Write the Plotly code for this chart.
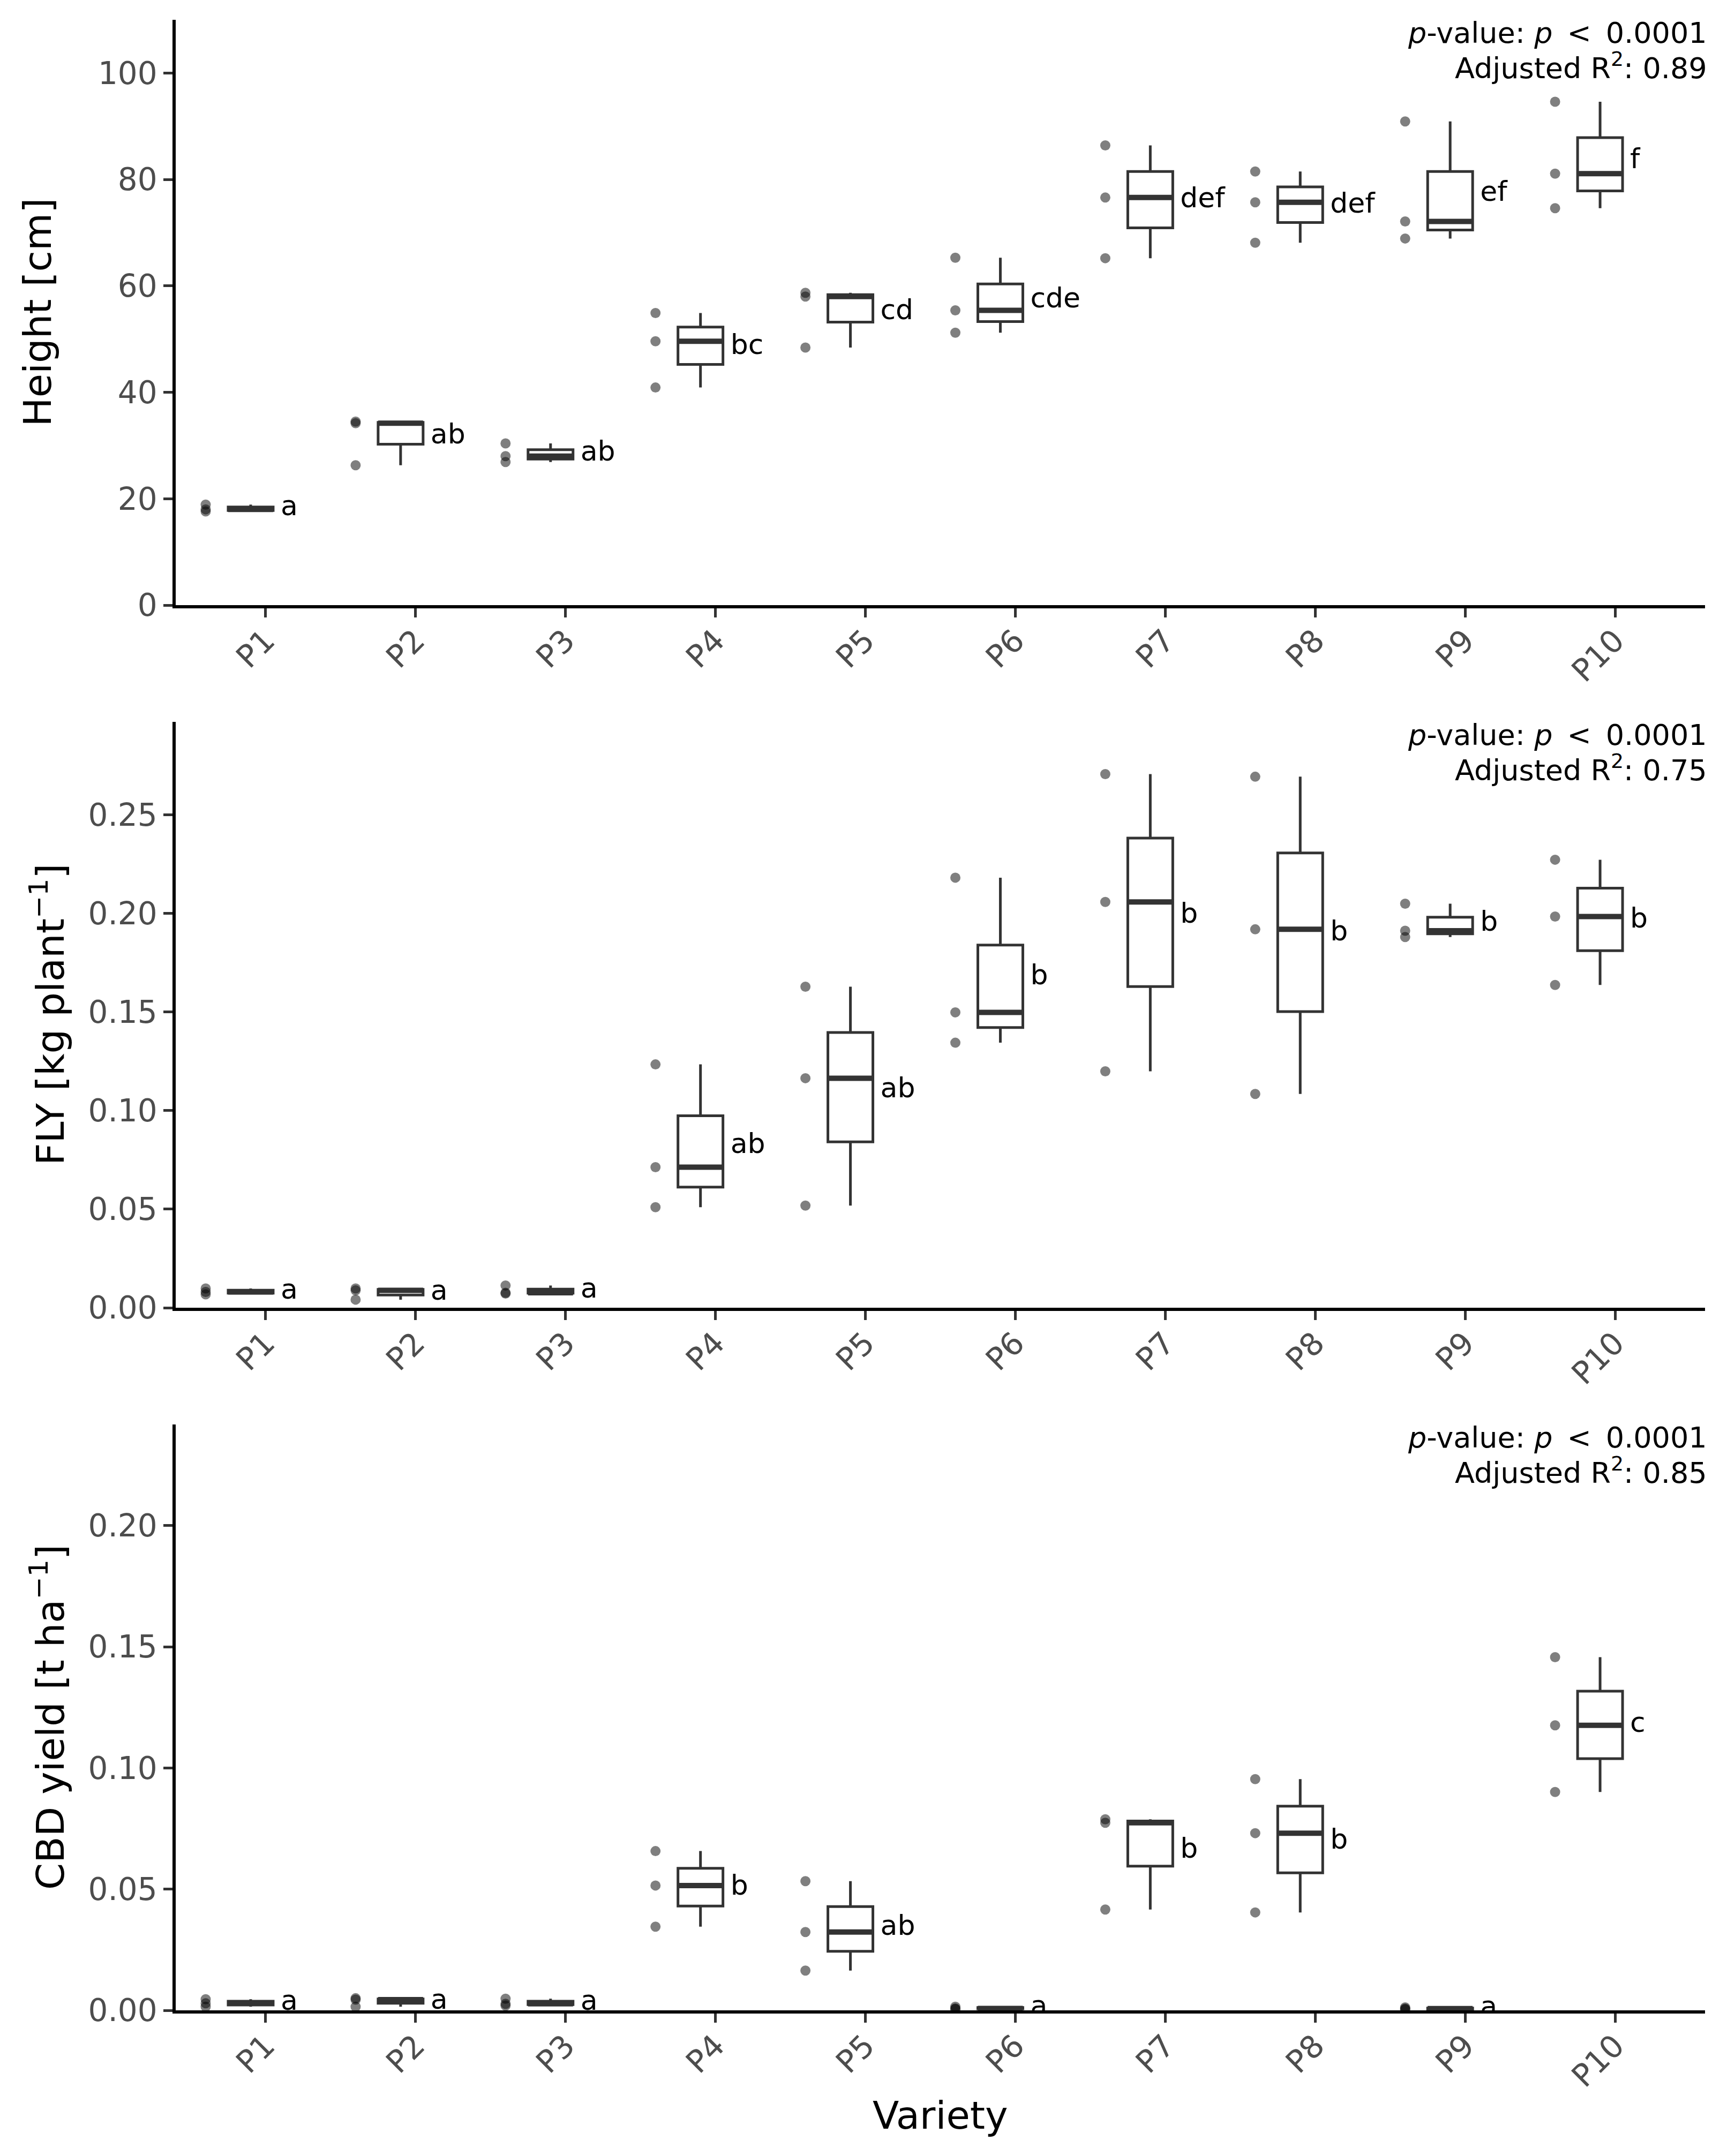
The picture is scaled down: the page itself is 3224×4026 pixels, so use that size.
import numpy as np
import plotly.graph_objects as go

varieties = ["P1", "P2", "P3", "P4", "P5", "P6", "P7", "P8", "P9", "P10"]

height_vals = [
    [17.6, 18.0, 18.9], [26.3, 34.2, 34.5], [26.9, 28.0, 30.4], [40.9, 49.6, 54.9],
    [48.4, 58.0, 58.7], [51.2, 55.4, 65.3], [65.2, 76.6, 86.4], [68.1, 75.7, 81.5],
    [68.9, 72.1, 90.9], [74.6, 81.1, 94.6],
]
fly_vals = [
    [0.0068, 0.0080, 0.0098], [0.0041, 0.0088, 0.0098], [0.0072, 0.0076, 0.0113],
    [0.0510, 0.0713, 0.1234], [0.0518, 0.1164, 0.1628], [0.1344, 0.1498, 0.2181],
    [0.1199, 0.2058, 0.2706], [0.1084, 0.1919, 0.2693], [0.1880, 0.1912, 0.2049],
    [0.1637, 0.1984, 0.2272],
]
cbd_vals = [
    [0.0015, 0.0029, 0.0046], [0.0015, 0.0044, 0.0050], [0.0020, 0.0027, 0.0048],
    [0.0345, 0.0515, 0.0657], [0.0164, 0.0323, 0.0533], [0.0005, 0.0008, 0.0015],
    [0.0416, 0.0774, 0.0788], [0.0404, 0.0731, 0.0954], [0.0004, 0.0007, 0.0012],
    [0.0901, 0.1176, 0.1457],
]

height_letters = ["a", "ab", "ab", "bc", "cd", "cde", "def", "def", "ef", "f"]
fly_letters = ["a", "a", "a", "ab", "ab", "b", "b", "b", "b", "b"]
cbd_letters = ["a", "a", "a", "b", "ab", "a", "b", "b", "a", "c"]

height_r2 = "0.89"
fly_r2 = "0.75"
cbd_r2 = "0.85"
p_text = "0.0001"

height_title = "Height [cm]"
fly_title = "FLY [kg plant<sup>\u22121</sup>]"
cbd_title = "CBD yield [t ha<sup>\u22121</sup>]"
x_title = "Variety"

height_ticks = [0, 20, 40, 60, 80, 100]
fly_ticks = [0, 0.05, 0.10, 0.15, 0.20, 0.25]
cbd_ticks = [0, 0.05, 0.10, 0.15, 0.20]

FONT = "DejaVu Sans"
BOXCOL = "#333333"
W, H = 3224, 4026
ML, MR, MT, MB = 320, 49, 29, 280

fig = go.Figure()

panels = [
    ("x", "y", height_vals, height_letters),
    ("x2", "y2", fly_vals, fly_letters),
    ("x3", "y3", cbd_vals, cbd_letters),
]

BOX_OFF = -0.1
BOX_W = 0.3
PT_OFF = -0.4
LBL_OFF = 0.1

for xa, ya, vals, letters in panels:
    pos = np.arange(1, len(varieties) + 1)
    # points
    px, py = [], []
    for p, v in zip(pos, vals):
        px += [p + PT_OFF] * len(v)
        py += list(v)
    fig.add_trace(go.Scatter(
        x=px, y=py, mode="markers", xaxis=xa, yaxis=ya,
        marker=dict(size=19, color="rgba(0,0,0,0.5)", line=dict(width=0)),
        cliponaxis=True, showlegend=False, hoverinfo="skip"))
    # boxes
    bx, by = [], []
    for p, v in zip(pos, vals):
        bx += [p + BOX_OFF] * len(v)
        by += list(v)
    fig.add_trace(go.Box(
        x=bx, y=by, xaxis=xa, yaxis=ya, width=BOX_W, boxpoints=False,
        quartilemethod="inclusive", whiskerwidth=0, fillcolor="white",
        line=dict(color=BOXCOL, width=5), showlegend=False, hoverinfo="skip"))
    # thick medians
    mx, my = [], []
    for p, v in zip(pos, vals):
        m = float(np.median(v))
        mx += [p + BOX_OFF - BOX_W / 2, p + BOX_OFF + BOX_W / 2, None]
        my += [m, m, None]
    fig.add_trace(go.Scatter(
        x=mx, y=my, mode="lines", xaxis=xa, yaxis=ya,
        line=dict(color=BOXCOL, width=10), cliponaxis=True,
        showlegend=False, hoverinfo="skip"))
    # letters at the mean
    fig.add_trace(go.Scatter(
        x=[p + LBL_OFF for p in pos], y=[float(np.mean(v)) for v in vals],
        mode="text", text=letters, textposition="middle right",
        textfont=dict(family=FONT, size=52, color="black"),
        xaxis=xa, yaxis=ya, cliponaxis=True, showlegend=False, hoverinfo="skip"))

plot_h = H - MT - MB
panel_h = 1094
gap = 218
dom_bot = [0, panel_h / plot_h]
dom_mid = [(panel_h + gap) / plot_h, (2 * panel_h + gap) / plot_h]
dom_top = [(2 * panel_h + 2 * gap) / plot_h, 1]

xcommon = dict(
    range=[0.4, 10.6], tickmode="array", tickvals=list(range(1, 11)), ticktext=varieties,
    tickangle=-45, showline=True, linecolor="black", linewidth=5.5, ticks="outside",
    ticklen=17, tickwidth=5, tickcolor=BOXCOL, showgrid=False, zeroline=False,
    tickfont=dict(family=FONT, size=58, color="#4D4D4D"), domain=[0, 1],
    ticklabelstandoff=-14,
)
ycommon = dict(
    showline=True, linecolor="black", linewidth=5.5, ticks="outside", ticklen=17,
    tickwidth=5, tickcolor=BOXCOL, showgrid=False, zeroline=False,
    tickfont=dict(family=FONT, size=58, color="#4D4D4D"),
)

fig.update_layout(
    width=W, height=H, paper_bgcolor="white", plot_bgcolor="white",
    margin=dict(l=ML, r=MR, t=MT, b=MB), showlegend=False,
    font=dict(family=FONT),
    xaxis=dict(**xcommon, anchor="y"),
    xaxis2=dict(**xcommon, anchor="y2"),
    xaxis3=dict(**xcommon, anchor="y3"),
    yaxis=dict(**ycommon, anchor="x", domain=dom_top, range=[0, 110],
               tickvals=height_ticks, ticktext=[str(t) for t in height_ticks]),
    yaxis2=dict(**ycommon, anchor="x2", domain=dom_mid, range=[0, 0.2971],
                tickvals=fly_ticks, ticktext=[f"{t:.2f}" for t in fly_ticks]),
    yaxis3=dict(**ycommon, anchor="x3", domain=dom_bot, range=[0, 0.2417],
                tickvals=cbd_ticks, ticktext=[f"{t:.2f}" for t in cbd_ticks]),
)

annotations = []
SP = "\u2002"
for xa, ya, r2 in [("x", "y", height_r2), ("x2", "y2", fly_r2), ("x3", "y3", cbd_r2)]:
    annotations.append(dict(
        xref=f"{xa} domain", yref=f"{ya} domain", x=1.002, y=1.0,
        xanchor="right", yanchor="middle", align="right", showarrow=False, yshift=-24,
        text=f"<i>p</i>-value: <i>p</i>{SP}&lt;{SP}{p_text}",
        font=dict(family=FONT, size=54, color="black")))
    annotations.append(dict(
        xref=f"{xa} domain", yref=f"{ya} domain", x=1.002, y=1.0,
        xanchor="right", yanchor="middle", align="right", showarrow=False, yshift=-86,
        text=f"Adjusted R<sup>2</sup>: {r2}",
        font=dict(family=FONT, size=54, color="black")))


def px_to_paper_x(px):
    return (px - ML) / (W - ML - MR)


def px_to_paper_y(py):
    return (H - MB - py) / plot_h


for title, dom, cx in [(height_title, dom_top, 62), (fly_title, dom_mid, 81), (cbd_title, dom_bot, 81)]:
    annotations.append(dict(
        xref="paper", yref="paper", x=px_to_paper_x(cx), y=(dom[0] + dom[1]) / 2,
        xanchor="center", yanchor="middle", textangle=-90, showarrow=False,
        text=title, font=dict(family=FONT, size=72, color="black")))

annotations.append(dict(
    xref="paper", yref="paper", x=0.5, y=px_to_paper_y(3942),
    xanchor="center", yanchor="middle", showarrow=False, text=x_title,
    font=dict(family=FONT, size=72, color="black")))

fig.update_layout(annotations=annotations)

fig.write_html("out.html")
